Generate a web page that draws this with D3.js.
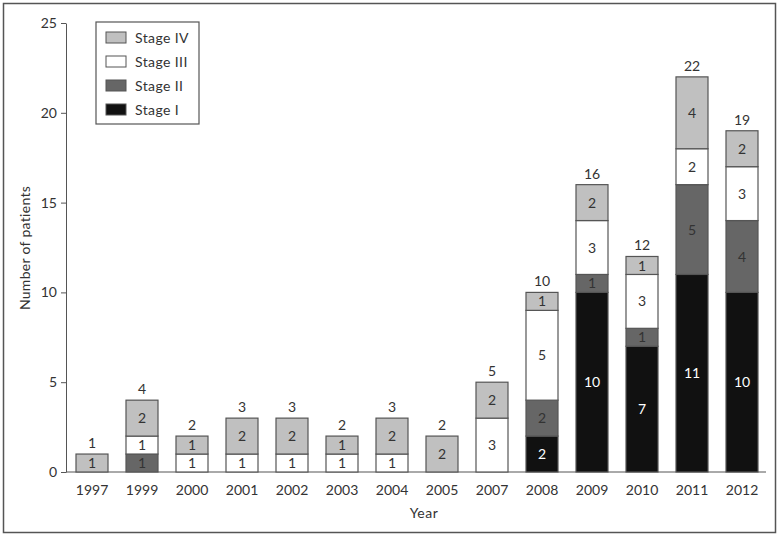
<!DOCTYPE html>
<html lang="en">
<head>
  <meta charset="UTF-8">
  <title>Patients by stage and year</title>
  <script src="https://d3js.org/d3.v7.min.js"></script>
  <style>
    body { margin: 0; background: #fff; font-family: "Lato", "DejaVu Sans", sans-serif; }
    svg { display: block; }
    text { font-family: "Lato", "DejaVu Sans", sans-serif; }
    .axis path, .axis line { stroke: #555; }
    .axis text { font-size: 14px; fill: #333; }
  </style>
</head>
<body>
  <svg width="780" height="536"></svg>
  <script>
    const years = ["1997", "1999", "2000", "2001", "2002", "2003", "2004", "2005", "2007", "2008", "2009", "2010", "2011", "2012"];
    const stageI   = [0, 0, 0, 0, 0, 0, 0, 0, 0, 2, 10, 7, 11, 10];
    const stageII  = [0, 1, 0, 0, 0, 0, 0, 0, 0, 2, 1, 1, 5, 4];
    const stageIII = [0, 1, 1, 1, 1, 1, 1, 0, 3, 5, 3, 3, 2, 3];
    const stageIV  = [1, 2, 1, 2, 2, 1, 2, 2, 2, 1, 2, 1, 4, 2];
    const stages = ["Stage I", "Stage II", "Stage III", "Stage IV"];
    const stageColors = ["#111111", "#666666", "#ffffff", "#c0c0c0"];
    const yTicks = [0, 5, 10, 15, 20, 25];

    const rows = years.map((y, i) => ({
      year: y,
      "Stage I": stageI[i], "Stage II": stageII[i],
      "Stage III": stageIII[i], "Stage IV": stageIV[i]
    }));

    const svg = d3.select("svg");

    // outer frame
    svg.append("rect")
      .attr("x", 3.5).attr("y", 3.5).attr("width", 772).attr("height", 529)
      .attr("fill", "none").attr("stroke", "#555").attr("stroke-width", 1.5);

    const x = d3.scaleBand().domain(years).range([67, 767]).paddingInner(0.36).paddingOuter(0.18);
    const y = d3.scaleLinear().domain([0, 25]).range([472, 23]);
    const color = d3.scaleOrdinal().domain(stages).range(stageColors);

    const series = d3.stack().keys(stages)(rows);

    // y axis
    svg.append("g").attr("class", "axis")
      .attr("transform", "translate(66,0)")
      .call(d3.axisLeft(y).tickValues(yTicks).tickSize(5).tickPadding(4).tickSizeOuter(0));

    // x axis line
    svg.append("line")
      .attr("x1", 66).attr("x2", 766).attr("y1", y(0)).attr("y2", y(0))
      .attr("stroke", "#555");

    svg.append("g").attr("class", "axis")
      .attr("transform", `translate(0,${y(0)})`)
      .call(d3.axisBottom(x).tickSize(0).tickPadding(13))
      .call(g => g.select(".domain").remove());

    const layer = svg.append("g").selectAll("g")
      .data(series).join("g")
      .attr("fill", d => color(d.key));

    layer.selectAll("rect")
      .data(d => d.filter(s => s[1] - s[0] > 0))
      .join("rect")
      .attr("x", d => x(d.data.year))
      .attr("width", x.bandwidth())
      .attr("y", d => y(d[1]))
      .attr("height", d => y(d[0]) - y(d[1]))
      .attr("stroke", "#555")
      .attr("stroke-width", 1.2);

    // segment labels
    series.forEach(s => {
      svg.append("g").selectAll("text")
        .data(s.filter(d => d[1] - d[0] > 0))
        .join("text")
        .attr("x", d => x(d.data.year) + x.bandwidth() / 2)
        .attr("y", d => y((d[0] + d[1]) / 2))
        .attr("dy", "0.36em")
        .attr("text-anchor", "middle")
        .attr("font-size", 14)
        .attr("fill", s.key === "Stage I" ? "#fff" : "#333")
        .text(d => d[1] - d[0]);
    });

    // totals
    svg.append("g").selectAll("text")
      .data(rows)
      .join("text")
      .attr("x", d => x(d.year) + x.bandwidth() / 2)
      .attr("y", d => y(d3.sum(stages, k => d[k])) - 6)
      .attr("text-anchor", "middle")
      .attr("font-size", 14)
      .attr("fill", "#333")
      .text(d => d3.sum(stages, k => d[k]));

    // axis titles
    svg.append("text")
      .attr("x", 424).attr("y", 518)
      .attr("text-anchor", "middle").attr("font-size", 14).attr("fill", "#333")
      .attr("letter-spacing", 0.5)
      .text("Year");
    svg.append("text")
      .attr("transform", "translate(30,248) rotate(-90)")
      .attr("text-anchor", "middle").attr("font-size", 14).attr("fill", "#333")
      .attr("letter-spacing", 0.3)
      .text("Number of patients");

    // legend
    const legend = svg.append("g").attr("transform", "translate(96,22)");
    legend.append("rect")
      .attr("width", 103).attr("height", 102)
      .attr("fill", "#fff").attr("stroke", "#555").attr("stroke-width", 1.2);
    const legendOrder = stages.slice().reverse();
    const li = legend.selectAll("g.item")
      .data(legendOrder).join("g")
      .attr("class", "item")
      .attr("transform", (d, i) => `translate(10,${10 + i * 24})`);
    li.append("rect")
      .attr("width", 20).attr("height", 11)
      .attr("fill", d => color(d)).attr("stroke", "#555").attr("stroke-width", 1);
    li.append("text")
      .attr("x", 29).attr("y", 6).attr("dy", "0.36em")
      .attr("font-size", 14).attr("fill", "#333")
      .attr("letter-spacing", 0.4)
      .text(d => d);
  </script>
</body>
</html>
